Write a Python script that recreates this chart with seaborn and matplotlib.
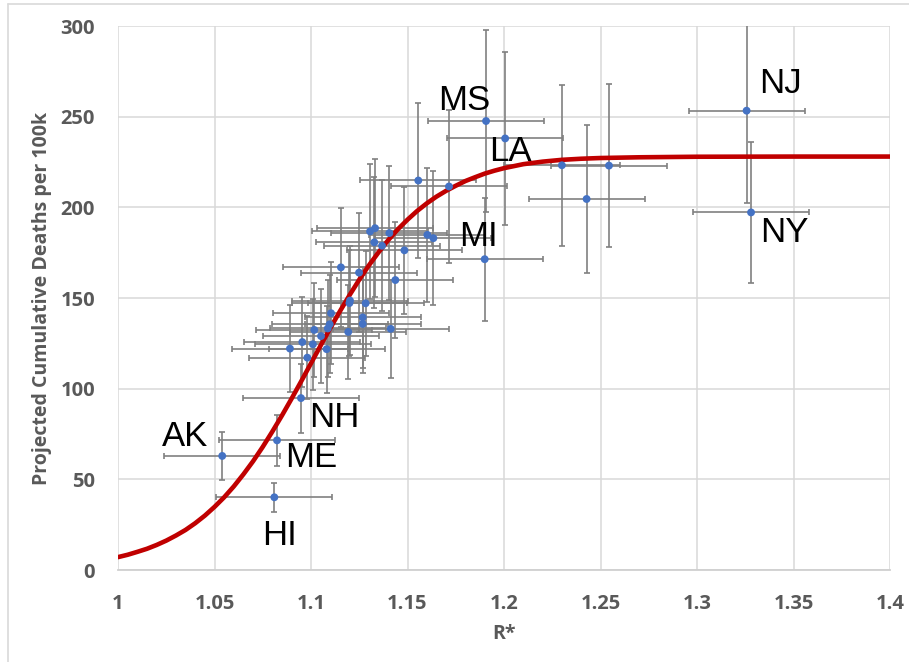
"""R* vs projected cumulative deaths per 100k, with the fitted curve."""
import matplotlib
matplotlib.use("Agg")
import matplotlib.pyplot as plt
import pandas as pd
import seaborn as sns
from matplotlib.lines import Line2D

# states: R*, projected deaths per 100k, and the vertical error half-width
r_star = [1.054, 1.0824, 1.081, 1.0948, 1.0981, 1.0891, 1.1081, 1.1010, 1.0955, 1.1052,
          1.1193, 1.1017, 1.1413, 1.1087, 1.1097, 1.1268, 1.1268, 1.1104, 1.1283, 1.1199,
          1.1202, 1.1437, 1.1249, 1.1155, 1.1484, 1.1368, 1.1328, 1.1634, 1.1603, 1.1406,
          1.1332, 1.1306, 1.1556, 1.1715, 1.1900, 1.1907, 1.2006, 1.2300, 1.2428, 1.2544,
          1.3257, 1.3280]
deaths = [62.9, 71.5, 40.1, 94.8, 117.1, 122.1, 121.8, 124.5, 125.7, 129.0,
          131.3, 132.4, 133.0, 133.2, 135.5, 135.7, 139.3, 141.6, 147.1, 147.2,
          148.6, 159.9, 164.0, 166.9, 176.3, 178.8, 180.7, 183.0, 184.8, 185.8,
          188.5, 186.7, 214.8, 211.5, 171.4, 247.6, 238.0, 223.2, 204.6, 223.0,
          253.3, 197.2]
deaths_err = [13, 14, 8, 19, 23, 24, 24, 25, 25, 26,
              26, 26, 27, 27, 27, 27, 28, 28, 29, 29,
              30, 32, 33, 33, 35, 36, 36, 37, 37, 37,
              38, 37, 43, 42, 34, 50, 47.5, 44.5, 41, 45,
              51, 39]
r_err = 0.03  # same horizontal half-width on every state

state = [""] * len(r_star)
for i, abbr in [(0, "AK"), (1, "ME"), (2, "HI"), (3, "NH"), (34, "MI"),
                (35, "MS"), (36, "LA"), (40, "NJ"), (41, "NY")]:
    state[i] = abbr

# fitted curve
curve_r = [1.000, 1.005, 1.010, 1.015, 1.020, 1.025, 1.030, 1.035, 1.040, 1.045,
           1.050, 1.055, 1.060, 1.065, 1.070, 1.075, 1.080, 1.085, 1.090, 1.095,
           1.100, 1.105, 1.110, 1.115, 1.120, 1.125, 1.130, 1.135, 1.140, 1.145,
           1.150, 1.155, 1.160, 1.165, 1.170, 1.175, 1.180, 1.185, 1.190, 1.195,
           1.20, 1.21, 1.22, 1.23, 1.24, 1.25, 1.27, 1.30, 1.35, 1.40]
curve_d = [7.1, 8.4, 10.0, 11.7, 13.8, 16.2, 19.0, 22.1, 25.8, 30.0,
           34.8, 40.1, 46.1, 52.8, 60.0, 67.9, 76.4, 85.3, 94.6, 104.2,
           114.0, 123.8, 133.4, 142.7, 151.6, 160.1, 168.0, 175.2, 181.9, 187.9,
           193.2, 198.0, 202.2, 205.9, 209.1, 211.9, 214.5, 216.6, 218.6, 220.2,
           221.6, 223.8, 225.2, 226.2, 226.8, 227.2, 227.6, 227.9, 228.0, 228.0]

x_ticks = [1, 1.05, 1.1, 1.15, 1.2, 1.25, 1.3, 1.35, 1.4]
y_ticks = [0, 50, 100, 150, 200, 250, 300]

# label offsets (pixels) from each labelled point to the text's left baseline
LABEL_OFFSET = {"AK": (-60, 10), "ME": (8, -27), "HI": (-12, -48), "NH": (8, -29),
                "MI": (-26, 13), "MS": (-48, 11), "LA": (-16, -23),
                "NJ": (13, 18), "NY": (9, -30)}

GREY = "#595959"
GRID = "#d9d9d9"

sns.set_theme(style="white")
plt.rcParams["font.family"] = ["Open Sans", "DejaVu Sans"]

df = pd.DataFrame({"r": r_star, "d": deaths, "d_err": deaths_err, "state": state})
fit = pd.DataFrame({"r": curve_r, "d": curve_d})

fig = plt.figure(figsize=(9.09, 6.62), dpi=100)
ax = fig.add_axes([118 / 909, 1 - 570 / 662, 772 / 909, 544 / 662])

ax.errorbar(df["r"], df["d"], xerr=r_err, yerr=df["d_err"], fmt="none",
            ecolor="#808080", elinewidth=1.2, capsize=2.5, capthick=1.2, zorder=2)
sns.lineplot(data=fit, x="r", y="d", color="#c00000", linewidth=3.3, ax=ax, zorder=3)
sns.scatterplot(data=df, x="r", y="d", color="#4472c4", s=32, edgecolor="none", ax=ax, zorder=4)

for _, row in df[df["state"] != ""].iterrows():
    dx, dy = LABEL_OFFSET[row["state"]]
    ax.annotate(row["state"], (row["r"], row["d"]), xytext=(dx, dy), textcoords="offset pixels",
                ha="left", va="baseline", fontsize=25, color="black",
                family=["Liberation Sans", "DejaVu Sans"], zorder=5)

ax.set_xlim(1, 1.4)
ax.set_ylim(0, 300)
ax.set_xticks(x_ticks)
ax.set_yticks(y_ticks)
ax.set_xticklabels([f"{t:g}" for t in x_ticks])
ax.set_yticklabels([str(t) for t in y_ticks])
ax.grid(True, color=GRID, linewidth=1.1)
ax.set_axisbelow(True)
for side in ["left", "top", "right"]:
    ax.spines[side].set_visible(False)
ax.spines["bottom"].set_color("#d0d0d0")
ax.spines["bottom"].set_linewidth(1.3)
ax.tick_params(axis="both", length=0, labelsize=14.5, labelcolor=GREY)
ax.tick_params(axis="x", pad=17)
ax.tick_params(axis="y", pad=16.5)
for lbl in ax.get_xticklabels() + ax.get_yticklabels():
    lbl.set_fontweight("bold")

ax.set_xlabel("R*", fontsize=14, fontweight="bold", color=GREY)
ax.set_ylabel("Projected Cumulative Deaths per 100k", fontsize=14, fontweight="bold", color=GREY)
ax.xaxis.set_label_coords(0.5, -0.10)
ax.yaxis.set_label_coords(-0.086, 0.5)

# light chart frame (left and top edges visible in the reference)
fig.add_artist(Line2D([8 / 909, 8 / 909], [0, 1 - 4 / 662], transform=fig.transFigure,
                      color="#d9d9d9", linewidth=1.2))
fig.add_artist(Line2D([8 / 909, 1], [1 - 4 / 662, 1 - 4 / 662], transform=fig.transFigure,
                      color="#d9d9d9", linewidth=1.2))

fig.savefig("out.png", dpi=100)
plt.close(fig)
